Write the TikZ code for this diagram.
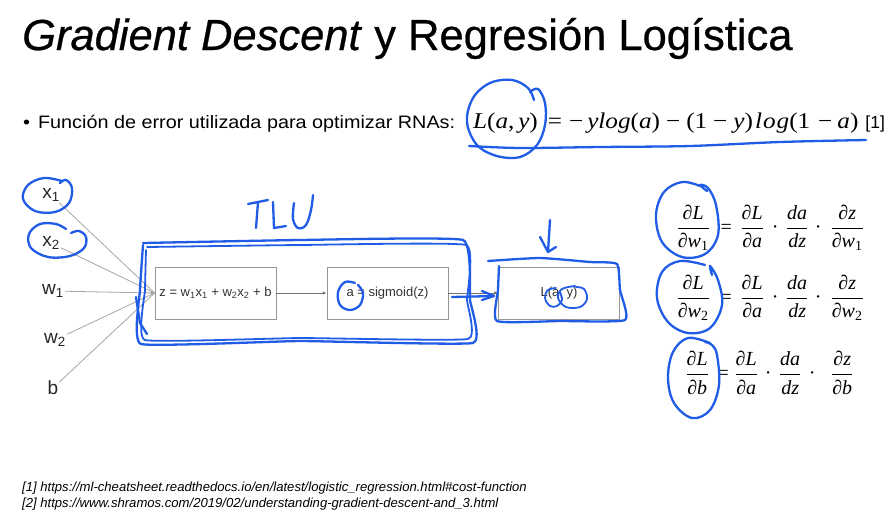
\documentclass[tikz,border=0pt]{standalone}
\usepackage{fontspec}
\usepackage{amsmath}
\setmainfont{Liberation Sans}
\newfontfamily\serif{Liberation Serif}
\newfontfamily\mathserif[FakeStretch=1.12]{Liberation Serif}
\newfontfamily\titlefont[FakeBold=0.6]{Liberation Sans}
\newfontfamily\widesans[FakeStretch=1.1]{Liberation Sans}
\usetikzlibrary{arrows.meta}

\definecolor{pen}{RGB}{32,92,230}
\definecolor{boxgray}{RGB}{150,150,150}

% fraction with text-font parts
\newcommand\tfr[2]{\ensuremath{\dfrac{\mbox{#1}}{\mbox{#2}}}}
% fixed-width cell, content centred
\newcommand\cell[2]{\makebox[#1pt][c]{#2}}
\newcommand\one{\textsubscript{\upshape 1}}
\newcommand\two{\textsubscript{\upshape 2}}

\begin{document}
\begin{tikzpicture}[x=1pt,y=-1pt,
  ink/.style={draw=pen, line width=2.3pt, line cap=round, line join=round},
  block/.style={draw=boxgray, line width=0.8pt, minimum width=121pt, minimum height=52pt,
    inner sep=0pt, font=\fontsize{13}{15}\selectfont, text=black!80},
  inlbl/.style={font=\fontsize{19}{22}\selectfont, text=black!85, inner sep=1pt},
  wire/.style={draw=black!35, line width=0.8pt},
  flow/.style={draw=black!55, line width=0.8pt, -{Latex[length=4pt,width=3.5pt]}},
  eqn/.style={anchor=west, font=\serif\itshape\fontsize{20}{24}\selectfont, inner sep=0pt},
]
\useasboundingbox[fill=white] (0,0) rectangle (896,520);

% heading and loss function
\node[anchor=base west, inner sep=0pt, font=\titlefont\fontsize{43.5}{50}\selectfont] (title) at (22,50)
  {\textit{Gradient Descent} y Regresión Logística};
\node[anchor=base west, inner sep=0pt, font=\widesans\fontsize{18}{21}\selectfont] (bullet) at (23,128)
  {\textbullet\hspace{8pt}Función de error utilizada para optimizar RNAs:};
\node[anchor=base west, inner sep=0pt, font=\mathserif\fontsize{22.5}{26}\selectfont] (loss) at (473,128)
  {\textit{L}(\textit{a},\,\textit{y})\hspace{10pt}=\hspace{7pt}−\hspace{4pt}\textit{ylog}(\textit{a})%
   \hspace{6pt}−\hspace{6pt}(1\hspace{6pt}−\hspace{6pt}\textit{y})\kern2pt\textit{l\kern1pt o\kern1pt g}(1%
   \hspace{8pt}−\hspace{5pt}\textit{a})\hspace{7pt}{\normalfont\fontsize{17.5}{21}\selectfont[1]}};

% inputs
\node[inlbl] (x1) at (51,195) {x\textsubscript{1}};
\node[inlbl] (x2) at (51,243) {x\textsubscript{2}};
\node[inlbl] (w1) at (53,291) {w\textsubscript{1}};
\node[inlbl] (w2) at (55,340) {w\textsubscript{2}};
\node[inlbl] (b)  at (53,388) {b};

% blocks
\node[block] (z)   at (215.5,293) {z = w\textsubscript{1}x\textsubscript{1} + w\textsubscript{2}x\textsubscript{2} + b};
\node[block] (sig) at (387.5,293) {a = sigmoid(z)};
\node[block] (lb)  at (559,293)   {L(a, y)};

\draw[wire] (x1) -- (z.west);
\draw[wire] (x2) -- (z.west);
\draw[wire] (w2) -- (z.west);
\draw[wire] (b)  -- (z.west);
\draw[wire, -{Latex[length=4pt,width=3.5pt]}, draw=black!35] (w1) -- (z.west);
\draw[flow] (z) -- (sig);
\draw[flow] (sig) -- (lb);

% chain rule
\node[eqn] (d1) at (675,228) {\cell{36}{\tfr{∂L}{∂w\one}}\cell{30}{\upshape =}\cell{22}{\tfr{∂L}{∂a}}\cell{24}{\upshape ·}\cell{20}{\tfr{da}{dz}}\cell{22}{\upshape ·}\cell{36}{\tfr{∂z}{∂w\one}}};
\node[eqn] (d2) at (675,298) {\cell{36}{\tfr{∂L}{∂w\two}}\cell{30}{\upshape =}\cell{22}{\tfr{∂L}{∂a}}\cell{24}{\upshape ·}\cell{20}{\tfr{da}{dz}}\cell{22}{\upshape ·}\cell{36}{\tfr{∂z}{∂w\two}}};
\node[eqn] (d3) at (683,373) {\cell{28}{\tfr{∂L}{∂b}}\cell{24}{\upshape =}\cell{22}{\tfr{∂L}{∂a}}\cell{22}{\upshape ·}\cell{22}{\tfr{da}{dz}}\cell{22}{\upshape ·}\cell{38}{\tfr{∂z}{∂b}}};

% references
\node[anchor=base west, inner sep=0pt, font=\itshape\fontsize{13.1}{15}\selectfont] (r1) at (22,491)
  {[1] https://ml-cheatsheet.readthedocs.io/en/latest/logistic\_regression.html\#cost-function};
\node[anchor=base west, inner sep=0pt, font=\itshape\fontsize{13.1}{15}\selectfont] (r2) at (22,507)
  {[2] https://www.shramos.com/2019/02/understanding-gradient-descent-and\_3.html};

% pen annotations
\draw[ink] plot[smooth, tension=0.6] coordinates {(530,92) (538,89) (545,103) (545,125) (537,145) (520,157) (497,156) (477,145) (467,122) (473,98) (490,83) (512,80) (528,88) (534,100)};
\draw[ink] plot[smooth, tension=0.5] coordinates {(469,146) (520,148) (600,147) (690,146) (780,142) (866,140)};

\draw[ink] plot[smooth, tension=0.6] coordinates {(62,181) (44,178) (28,185) (23,199) (35,211) (55,212) (69,203) (72,188) (66,180) (60,183)};
\draw[ink] plot[smooth, tension=0.6] coordinates {(66,229) (56,224) (40,224) (29,234) (31,248) (48,257) (70,256) (84,248) (86,237) (79,231) (71,233)};

% TLU label
\draw[ink] (248,204) -- (268,200);
\draw[ink] (258,202) -- (256,228);
\draw[ink] (273,202) -- (274,228) -- (286,226);
\draw[ink] plot[smooth, tension=0.6] coordinates {(294,203) (293,219) (298,228) (306,225) (311,210) (313,195)};

% TLU frame
\draw[ink] plot[smooth, tension=0.2] coordinates {(143,243) (300,240) (463,240) (470,300) (473,343) (300,341) (141,344) (140,290) (143,245)};
\draw[ink, line width=1.8pt] plot[smooth, tension=0.2] coordinates {(147,247) (300,245) (466,245) (467,300) (468,339) (300,338) (145,340) (145,290) (146,250)};
\draw[ink] (136,297) -- (140,323) -- (147,334);

\draw[ink] plot[smooth, tension=0.6] coordinates {(355,283) (345,282) (338,292) (340,305) (350,310) (360,305) (363,293) (358,285)};

\draw[ink] (452,297) -- (494,296);
\draw[ink] (482,291) -- (494,296) -- (482,300);

\draw[ink] (550,220) -- (548,252);
\draw[ink] (540,237) -- (548,252) -- (556,247);

\draw[ink] plot[smooth, tension=0.3] coordinates {(488,261) (540,258) (590,262) (617,264) (620,290) (625,320) (560,321) (497,321) (498,290) (499,266)};
\draw[ink, line width=1.8pt] plot[smooth, tension=0.6] coordinates {(556,288) (548,290) (545,298) (550,306) (557,306) (562,300) (560,292)};
\draw[ink, line width=1.8pt] plot[smooth, tension=0.6] coordinates {(575,286) (562,289) (558,298) (566,307) (580,307) (587,299) (584,289) (576,287)};

\draw[ink] plot[smooth, tension=0.6] coordinates {(700,186) (682,182) (664,192) (656,215) (662,242) (682,257) (705,254) (718,235) (716,205) (708,188) (700,185) (707,191)};
\draw[ink] plot[smooth, tension=0.6] coordinates {(705,265) (680,261) (662,272) (657,298) (668,322) (688,333) (710,328) (722,305) (718,280) (710,266) (712,275)};
\draw[ink] plot[smooth, tension=0.6] coordinates {(710,343) (688,338) (673,352) (668,378) (674,403) (692,418) (710,410) (719,385) (717,355) (712,345) (705,342)};
\end{tikzpicture}
\end{document}
